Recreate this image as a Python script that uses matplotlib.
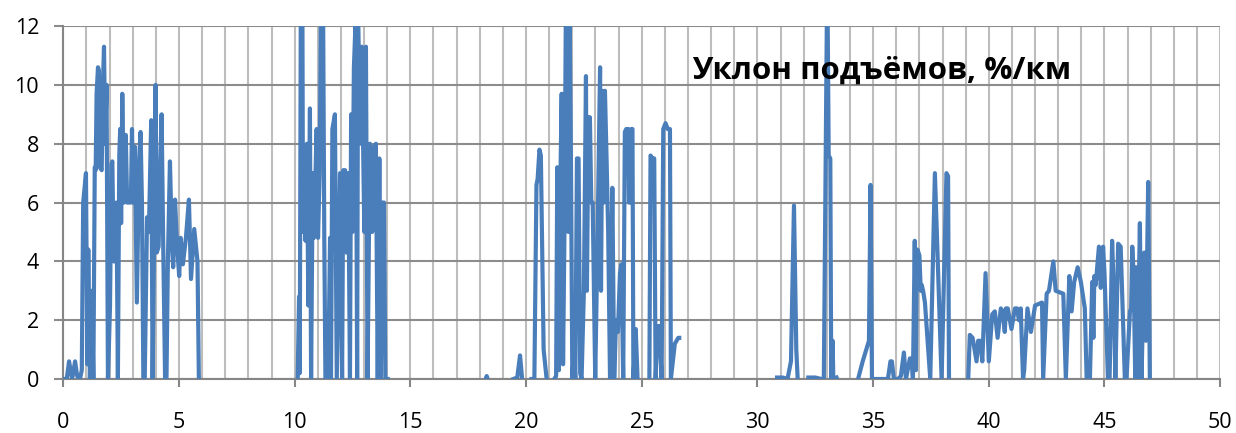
import numpy as np
import matplotlib
matplotlib.use("Agg")
import matplotlib.pyplot as plt
from matplotlib.ticker import MultipleLocator

# ---- data: distance (km) / climb gradient ----
seg1_x = [0, 0.15, 0.25, 0.38, 0.51, 0.60, 0.72, 0.80, 0.86, 0.98, 1.04, 1.08, 1.15, 1.23, 1.30, 1.36, 1.40,
          1.44, 1.50, 1.54, 1.58, 1.66, 1.72, 1.76, 1.81, 1.87, 1.93, 2.02, 2.08, 2.12, 2.18, 2.23, 2.30, 2.36,
          2.42, 2.46, 2.50, 2.55, 2.62, 2.70, 2.76, 2.92, 2.97, 3.02, 3.09, 3.18, 3.28, 3.34, 3.40, 3.46, 3.52,
          3.62, 3.70, 3.80, 3.86, 3.92, 3.99, 4.04, 4.12, 4.18, 4.25, 4.32, 4.40, 4.46, 4.52, 4.61, 4.70, 4.75,
          4.83, 4.92, 5.01, 5.07, 5.17, 5.30, 5.43, 5.52, 5.66, 5.80, 5.86]
seg1_y = [0, 0, 0.6, 0, 0.6, 0.1, 0, 0.3, 6.0, 7.0, 0.5, 4.4, 0, 3.0, 0, 7.2, 7.1,
          9.7, 10.6, 10.5, 7.2, 7.1, 10.2, 11.3, 8.0, 10.0, 0, 2.5, 7.3, 7.4, 4.0, 4.0, 6.0, 0,
          7.6, 8.5, 5.3, 9.7, 6.0, 8.3, 6.0, 6.0, 8.5, 6.0, 7.9, 2.6, 7.5, 8.4, 6.0, 0, 0,
          5.5, 5.0, 8.8, 0, 4.3, 10.0, 4.3, 4.5, 7.0, 9.0, 4.5, 0, 0, 4.0, 7.4, 4.5, 3.8,
          6.1, 4.5, 3.5, 4.8, 3.9, 4.8, 6.1, 3.4, 5.1, 4.0, 0]

seg2_x = [10.13, 10.19, 10.22, 10.27, 10.33, 10.36, 10.42, 10.47, 10.53, 10.59, 10.66, 10.71, 10.78, 10.83,
          10.95, 11.01, 11.08, 11.15, 11.22, 11.28, 11.33, 11.45, 11.53, 11.57, 11.63, 11.74, 11.82, 11.96,
          12.05, 12.10, 12.18, 12.24, 12.32, 12.39, 12.44, 12.50, 12.56, 12.64, 12.70, 12.74, 12.84, 12.90,
          13.01, 13.08, 13.15, 13.25, 13.35, 13.42, 13.51, 13.59, 13.66, 13.72, 13.80, 13.86, 13.92, 14.02]
seg2_y = [0, 2.8, 0.2, 14, 14, 5.0, 7.5, 4.7, 8.0, 2.5, 9.2, 0, 7.0, 4.8,
          8.5, 4.8, 7.0, 14, 14, 4.8, 0, 0, 4.8, 0, 8.5, 9.0, 0, 7.0,
          0, 7.1, 7.1, 4.3, 7.0, 0, 9.0, 5.0, 10.6, 12.3, 0, 12.3, 8.0, 11.3,
          5.0, 11.3, 0, 8.0, 5.0, 7.9, 8.0, 0, 7.5, 0, 6.0, 6.0, 0, 0]

seg3_x = [18.26, 18.30, 18.34]
seg3_y = [0, 0.1, 0]

seg4_x = [19.45, 19.62, 19.74, 19.83]
seg4_y = [0, 0.05, 0.8, 0]

seg5_x = [20.24, 20.36, 20.45, 20.50, 20.58, 20.64, 20.76, 20.89]
seg5_y = [0, 0, 6.6, 6.8, 7.8, 7.6, 1.0, 0]

seg6_x = [21.22, 21.30, 21.35, 21.42, 21.49, 21.54, 21.60, 21.66, 21.72, 21.78, 21.83, 21.88, 21.94, 22.00,
          22.07, 22.13, 22.20, 22.27, 22.34, 22.40, 22.50, 22.59, 22.63, 22.70, 22.76, 22.82, 22.88, 22.99,
          23.08, 23.20, 23.24, 23.30, 23.36, 23.41, 23.48, 23.55, 23.63, 23.73, 23.81, 23.89, 23.97, 24.06,
          24.12, 24.20, 24.27, 24.33, 24.42, 24.45, 24.51, 24.55, 24.60, 24.64, 24.74, 24.82]
seg6_y = [0, 0.1, 7.2, 0.3, 7.0, 9.7, 0.5, 5.0, 12.5, 14.0, 5.0, 13.0, 7.5, 0,
          1.0, 0, 7.5, 7.5, 0.2, 0, 3.0, 10.3, 3.0, 8.9, 8.9, 6.0, 6.0, 0,
          4.3, 10.6, 3.0, 9.8, 6.0, 9.8, 7.5, 5.0, 0, 6.5, 0, 2.0, 1.6, 3.6,
          3.9, 0, 8.4, 8.5, 8.5, 6.0, 6.0, 8.5, 8.5, 0, 1.7, 0]

seg7_x = [25.33, 25.38, 25.46, 25.54, 25.60, 25.69, 25.76, 25.86, 25.93, 26.03, 26.12, 26.22, 26.26, 26.43,
          26.58, 26.62]
seg7_y = [0, 7.6, 7.5, 7.5, 0, 1.8, 1.8, 0, 8.5, 8.7, 8.5, 8.5, 0, 1.2,
          1.4, 1.4]

seg8_x = [30.85, 31.10, 31.30, 31.45, 31.58, 31.68, 31.74]
seg8_y = [0.05, 0.05, 0, 0.6, 5.9, 1.0, 0]

seg9_x = [32.20, 32.50, 32.77, 32.87, 33.02, 33.08, 33.15, 33.19, 33.25, 33.28, 33.42]
seg9_y = [0.05, 0.05, 0, 0, 14.0, 7.6, 7.5, 0, 1.3, 0, 0.05]

seg10_x = [34.35, 34.55, 34.82, 34.89, 34.95, 35.20, 35.64, 35.75, 35.81, 35.90, 36.08, 36.20, 36.33, 36.42,
           36.59, 36.66, 36.72, 36.80, 36.85, 36.88, 36.92, 37.00, 37.06, 37.10, 37.16, 37.24, 37.47, 37.67,
           37.96, 38.17, 38.24, 38.28]
seg10_y = [0, 0.6, 1.3, 6.6, 0, 0, 0, 0.6, 0.6, 0, 0, 0.1, 0.9, 0,
           0.7, 0.7, 0, 4.7, 0.3, 3.5, 4.4, 4.2, 3.0, 3.2, 3.0, 2.6, 0, 7.0,
           0, 7.0, 6.9, 0]

seg11_x = [39.11, 39.18, 39.30, 39.47, 39.54, 39.62, 39.72, 39.86, 40.00, 40.15, 40.26, 40.38, 40.52, 40.60,
           40.69, 40.74, 40.82, 40.98, 41.13, 41.22, 41.30, 41.38, 41.48, 41.53, 41.67, 41.82, 42.00, 42.30,
           42.35, 42.50, 42.60, 42.79, 42.89, 43.22, 43.33, 43.48, 43.58, 43.69, 43.84, 43.98, 44.15, 44.23,
           44.37, 44.47, 44.52, 44.56, 44.62, 44.76, 44.84, 44.94, 45.00, 45.15, 45.22, 45.33, 45.40, 45.47,
           45.59, 45.70, 45.88, 45.95, 46.10, 46.15, 46.20, 46.26, 46.33, 46.37, 46.42, 46.53, 46.60, 46.72,
           46.79, 46.89, 46.96]
seg11_y = [0, 1.5, 1.4, 0.6, 1.3, 1.3, 0.6, 3.6, 0.6, 2.2, 2.3, 1.4, 2.4, 2.3,
           1.6, 2.4, 2.4, 1.7, 2.4, 2.4, 2.0, 2.4, 0, 0.3, 2.4, 1.6, 2.5, 2.6,
           0, 2.9, 3.0, 4.0, 3.0, 2.9, 0, 3.5, 2.3, 3.3, 3.8, 3.3, 2.4, 0,
           0, 3.3, 1.4, 3.5, 3.2, 4.5, 3.1, 4.5, 3.6, 0, 0, 4.7, 3.0, 0,
           4.6, 4.5, 0, 0, 2.3, 2.4, 4.5, 3.5, 0, 3.8, 0, 5.3, 0, 4.3,
           1.3, 6.7, 0]

segments_x = [seg1_x, seg2_x, seg3_x, seg4_x, seg5_x, seg6_x, seg7_x, seg8_x, seg9_x, seg10_x, seg11_x]
segments_y = [seg1_y, seg2_y, seg3_y, seg4_y, seg5_y, seg6_y, seg7_y, seg8_y, seg9_y, seg10_y, seg11_y]

title_text = "Уклон подъёмов, %/км"
x_ticks = [0, 5, 10, 15, 20, 25, 30, 35, 40, 45, 50]
y_ticks = [0, 2, 4, 6, 8, 10, 12]

# assemble one line with gaps between segments
xs, ys = [], []
for sx, sy in zip(segments_x, segments_y):
    xs.extend(sx + [np.nan])
    ys.extend(sy + [np.nan])

plt.rcParams['font.family'] = ['Open Sans', 'DejaVu Sans']

fig = plt.figure(figsize=(12.36, 4.33), dpi=100)
ax = fig.add_axes([0.0512, 0.1247, 0.936, 0.815])

ax.plot(xs, ys, color='#4a7ebb', linewidth=3.0, solid_joinstyle='round', zorder=3)

ax.set_xlim(0, 50)
ax.set_ylim(0, 12)
ax.set_xticks(x_ticks)
ax.set_yticks(y_ticks)
ax.xaxis.set_minor_locator(MultipleLocator(1))

ax.grid(which='minor', axis='x', color='#bdbdbd', linewidth=1.5, zorder=0)
ax.grid(which='major', axis='x', color='#bdbdbd', linewidth=1.5, zorder=0)
ax.grid(which='major', axis='y', color='#8c8c8c', linewidth=1.5, zorder=0)
ax.set_axisbelow(True)

for side in ['top', 'right']:
    ax.spines[side].set_visible(False)
for side in ['left', 'bottom']:
    ax.spines[side].set_color('#868686')
    ax.spines[side].set_linewidth(1.5)

ax.tick_params(axis='x', which='major', direction='out', length=6, width=1.5, color='#868686',
               labelsize=15.5, pad=18)
ax.tick_params(axis='x', which='minor', length=0)
ax.tick_params(axis='y', which='major', direction='out', length=6.5, width=1.5, color='#8c8c8c',
               labelsize=15.5, pad=11)

ax.text(35.38, 10.23, title_text, ha='center', va='baseline', fontsize=22.5, fontweight='bold',
        color='black', zorder=4)

fig.savefig('out.png', dpi=100)
